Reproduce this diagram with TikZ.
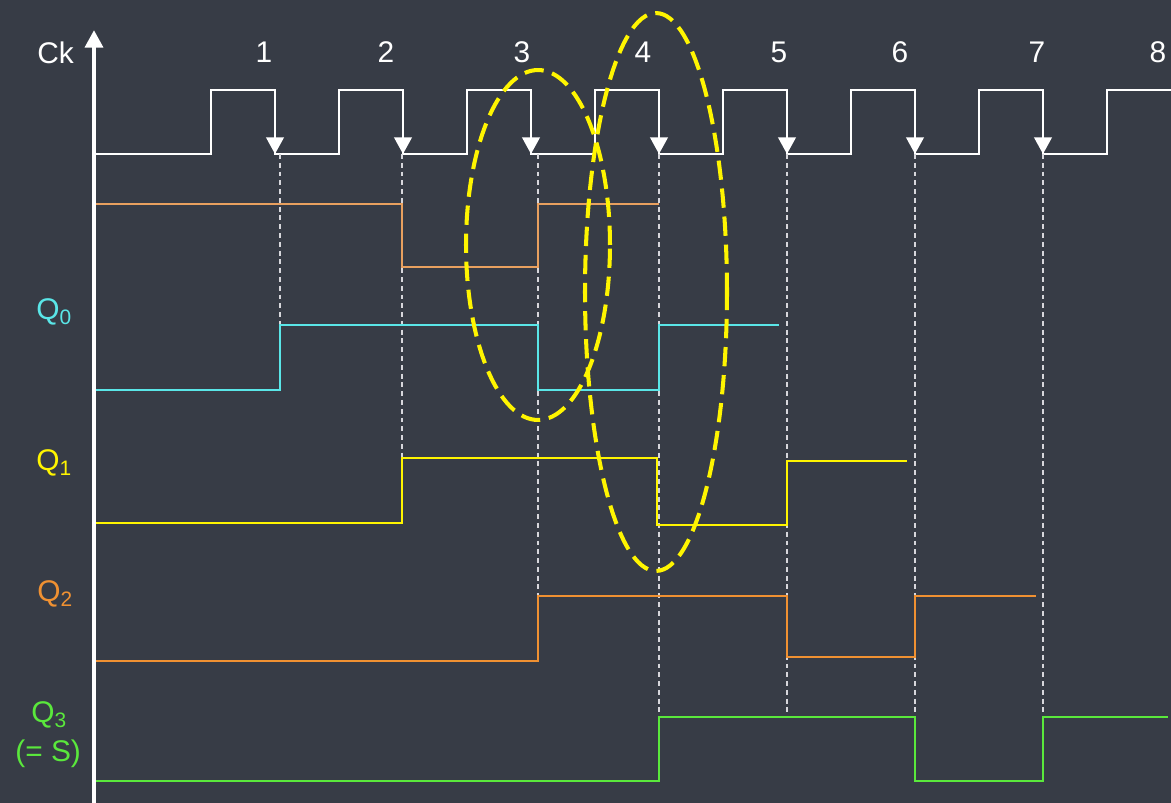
\documentclass[tikz,border=0pt]{standalone}
\usepackage{fontspec}
\setmainfont{Liberation Sans}
\usetikzlibrary{arrows.meta}

\definecolor{bgcol}{RGB}{55,60,70}
\definecolor{qzero}{RGB}{90,230,232}
\definecolor{qone}{RGB}{255,245,0}
\definecolor{qtwo}{RGB}{240,145,50}
\definecolor{qthree}{RGB}{90,232,60}
\definecolor{qtop}{RGB}{232,160,95}
\definecolor{guide}{RGB}{215,215,220}

\tikzstyle{lbl} = [inner sep=0pt, font=\fontsize{17}{20}\selectfont]
\tikzstyle{clk} = [white, line width=1.4pt, line join=miter]
\tikzstyle{tip} = [white, line width=1.4pt, -{Triangle[width=10pt,length=9.5pt]}]
\tikzstyle{axis} = [white, line width=2.8pt, -{Triangle[width=10pt,length=10pt]}]
\tikzstyle{guideline} = [guide, line width=0.6pt, dash pattern=on 2.8pt off 2.2pt]
\tikzstyle{wave} = [line width=1.1pt]
\tikzstyle{oval} = [qone, line width=2.3pt, dash pattern=on 11pt off 5pt]

\begin{document}
\begin{tikzpicture}[x=0.02cm, y=-0.02cm]
\useasboundingbox (0,0) rectangle (1171,803);
\fill[bgcol] (0,0) rectangle (1171,803);

% labels
\node[lbl, white, anchor=base west] (ck) at (37,64) {Ck};
\node[lbl, qzero, anchor=base west] (q0) at (36,320) {Q\textsubscript{0}};
\node[lbl, qone, anchor=base west] (q1) at (36,471) {Q\textsubscript{1}};
\node[lbl, qtwo, anchor=base west] (q2) at (37,602) {Q\textsubscript{2}};
\node[lbl, qthree, anchor=base west] (q3) at (31,723) {Q\textsubscript{3}};
\node[lbl, qthree, anchor=base west] (q3s) at (15,762) {(= S)};

% clock edge numbers
\foreach \n/\x in {1/264, 2/386, 3/522, 4/643, 5/779, 6/900, 7/1037, 8/1158}
    \node[lbl, white, anchor=base] (n\n) at (\x,63) {\n};

% clock
\draw[clk] (94,154)
    foreach \r/\f in {211/275, 339/403, 467/531, 595/659, 723/787, 851/915, 979/1043} {
        -- (\r,154) -- (\r,90) -- (\f,90) -- (\f,154)
    }
    -- (1107,154) -- (1107,90) -- (1171,90);
\foreach \f in {275, 403, 531, 659, 787, 915, 1043}
    \draw[tip] (\f,120) -- (\f,154);

% guide lines below the falling edges
\foreach \i/\x/\y in {1/280/325, 2/402/458, 3/538/596, 4/659/717, 5/787/717, 6/915/717, 7/1043/717} {
    \coordinate (t\i) at (\x,154);
    \coordinate (b\i) at (\x,\y);
    \draw[guideline] (t\i) -- (b\i);
}

% waveforms
\draw[wave, qtop] (96,204) -- (402,204) -- (402,267) -- (538,267) -- (538,204) -- (659,204);
\draw[wave, qzero] (94,390) -- (280,390) -- (280,325) -- (538,325) -- (538,390)
    -- (659,390) -- (659,325) -- (779,325);
\draw[wave, qone] (94,523) -- (402,523) -- (402,458) -- (657,458) -- (657,525)
    -- (787,525) -- (787,461) -- (907,461);
\draw[wave, qtwo] (94,661) -- (538,661) -- (538,596) -- (787,596) -- (787,657)
    -- (915,657) -- (915,596) -- (1036,596);
\draw[wave, qthree] (94,781) -- (659,781) -- (659,717) -- (915,717) -- (915,781)
    -- (1043,781) -- (1043,717) -- (1168,717);

% axis
\draw[axis] (94,803) -- (94,30);

% highlighted regions
\draw[oval] (538,245) ellipse [x radius=1.44cm, y radius=3.5cm];
\draw[oval] (656,292) ellipse [x radius=1.42cm, y radius=5.58cm];
\end{tikzpicture}
\end{document}
